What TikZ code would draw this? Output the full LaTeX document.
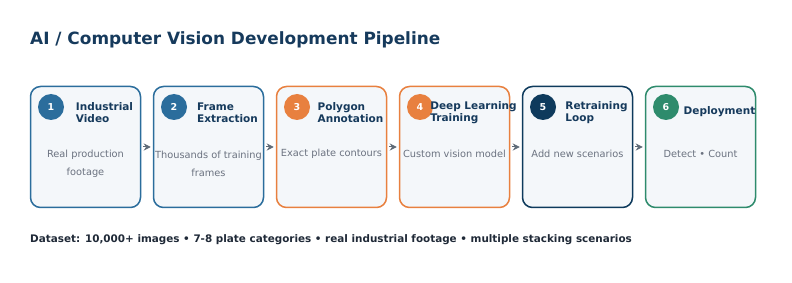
\documentclass[tikz,border=0pt]{standalone}
\usepackage{fontspec}
\setmainfont{DejaVu Sans}
\usetikzlibrary{arrows.meta}

\definecolor{stepblue}{HTML}{2B6D9C}
\definecolor{steporange}{HTML}{E8803F}
\definecolor{stepnavy}{HTML}{0E3A5C}
\definecolor{stepgreen}{HTML}{2E8B6C}
\definecolor{boxfill}{HTML}{F4F7FA}
\definecolor{headtext}{HTML}{163A5C}
\definecolor{desctext}{HTML}{6B7280}
\definecolor{arrowgrey}{HTML}{5F6B78}
\definecolor{foottext}{HTML}{1F2937}

\tikzset{
  stepbox/.style={draw, fill=boxfill, line width=1.5pt, rounded corners=10pt,
    minimum width=110pt, minimum height=121pt},
  numdot/.style={circle, minimum size=26pt, inner sep=0pt, text=white,
    font=\fontsize{9.5}{11}\selectfont\bfseries},
  steptitle/.style={align=left, text=headtext, inner sep=0pt,
    font=\fontsize{10.5}{12}\selectfont\bfseries},
  stepdesc/.style={align=center, text=desctext, inner sep=0pt,
    font=\fontsize{9.8}{12}\selectfont},
  flow/.style={-{Stealth[length=7pt,width=7pt]}, arrowgrey, line width=1pt,
    shorten <=2pt, shorten >=2pt}
}

\begin{document}
\begin{tikzpicture}[x=1pt, y=-1pt]
  \useasboundingbox (0,0) rectangle (792,283);

  % heading
  \node[anchor=west, inner sep=0pt, text=headtext, font=\fontsize{16.9}{20}\selectfont\bfseries]
    (heading) at (30,39.5) {AI / Computer Vision Development Pipeline};

  % boxes
  \node[stepbox, draw=stepblue] (box1) at (85.5,147) {};
  \node[stepbox, draw=stepblue] (box2) at (208.5,147) {};
  \node[stepbox, draw=steporange] (box3) at (331.5,147) {};
  \node[stepbox, draw=steporange] (box4) at (454.5,147) {};
  \node[stepbox, draw=stepnavy] (box5) at (577.5,147) {};
  \node[stepbox, draw=stepgreen] (box6) at (700.5,147) {};

  % number dots
  \node[numdot, fill=stepblue] (dot1) at (51,107) {1};
  \node[numdot, fill=stepblue] (dot2) at (174,107) {2};
  \node[numdot, fill=steporange] (dot3) at (297,107) {3};
  \node[numdot, fill=steporange] (dot4) at (420,107) {4};
  \node[numdot, fill=stepnavy] (dot5) at (543,107) {5};
  \node[numdot, fill=stepgreen] (dot6) at (666,107) {6};

  % step titles
  \node[steptitle] (title1) at (104.5,112.5) {Industrial\\Video};
  \node[steptitle] (title2) at (227.5,112.5) {Frame\\Extraction};
  \node[steptitle] (title3) at (350.5,112.5) {Polygon\\Annotation};
  \node[steptitle] (title4) at (473.5,112.5) {Deep Learning\\Training};
  \node[steptitle] (title5) at (596.5,112.5) {Retraining\\Loop};
  \node[steptitle] (title6) at (719.5,112) {Deployment};

  % descriptions
  \node[stepdesc] (desc1) at (85.5,163.5) {Real production\\[6pt]footage};
  \node[stepdesc] (desc2) at (208.5,163.5) {Thousands of training\\[6pt]frames};
  \node[stepdesc] (desc3) at (331.5,154) {Exact plate contours};
  \node[stepdesc] (desc4) at (454.5,154) {Custom vision model};
  \node[stepdesc] (desc5) at (577.5,154) {Add new scenarios};
  \node[stepdesc] (desc6) at (700.5,154) {Detect • Count};

  % arrows
  \draw[flow] (box1.east) -- (box2.west);
  \draw[flow] (box2.east) -- (box3.west);
  \draw[flow] (box3.east) -- (box4.west);
  \draw[flow] (box4.east) -- (box5.west);
  \draw[flow] (box5.east) -- (box6.west);

  % footer
  \node[anchor=west, inner sep=0pt, text=foottext, font=\fontsize{10.4}{12}\selectfont\bfseries]
    (footer) at (30,239.5) {Dataset: 10,000+ images • 7-8 plate categories • real industrial footage • multiple stacking scenarios};
\end{tikzpicture}
\end{document}
